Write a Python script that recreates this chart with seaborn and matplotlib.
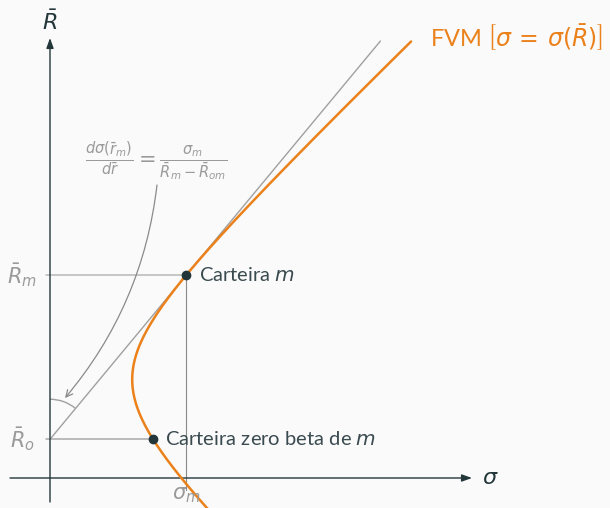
import numpy as np
import pandas as pd
import matplotlib
matplotlib.use("Agg")
import matplotlib.pyplot as plt
from matplotlib.patches import Arc
import seaborn as sns

# Minimum-variance frontier: sigma^2 = var_min + curv * (R - R_gmv)^2
sigma_min = 82.2      # sigma of the global minimum-variance portfolio
R_gmv = 98.5          # expected return of the global minimum-variance portfolio
curv = 1.082          # curvature of the frontier
R_range = [-32.0, 436.5]
R_market = 203.0      # expected return of the market portfolio
R_tangent_end = 437.0

DARK = "#23373B"
TEXT = "#3a4b50"
ORANGE = "#EB811B"
GREY = "#9a9a9a"
BG = "#FAFAFA"

sns.set_theme(style="white")
plt.rcParams["font.family"] = ["Lato", "DejaVu Sans"]
plt.rcParams["mathtext.fontset"] = "dejavusans"


def frontier_sigma(R):
    return np.sqrt(sigma_min ** 2 + curv * (R - R_gmv) ** 2)


R_vals = np.linspace(R_range[0], R_range[1], 400)
frontier = pd.DataFrame({"sigma": frontier_sigma(R_vals), "R": R_vals})

sigma_m = float(frontier_sigma(R_market))
slope_dsig = curv * (R_market - R_gmv) / sigma_m          # d sigma / d R at the market
R_zero = R_market - sigma_m / slope_dsig                  # intercept of the tangent
sigma_zero = float(frontier_sigma(R_zero))
sigma_tangent_end = (R_tangent_end - R_zero) * slope_dsig

fig = plt.figure(figsize=(6.10, 5.08), dpi=100, facecolor=BG)
ax = fig.add_axes([0, 0, 1, 1], facecolor=BG)
ax.set_xlim(-50, 560)
ax.set_ylim(-30, 478)
ax.set_axis_off()

# coordinate axes with arrowheads
ax.annotate("", xy=(422, 0), xytext=(-40, 0),
            arrowprops=dict(arrowstyle="-|>,head_length=0.5,head_width=0.18",
                            color=DARK, lw=1.0, shrinkA=0, shrinkB=0))
ax.annotate("", xy=(0, 440), xytext=(0, -24),
            arrowprops=dict(arrowstyle="-|>,head_length=0.5,head_width=0.18",
                            color=DARK, lw=1.0, shrinkA=0, shrinkB=0))
ax.text(440, 0, r"$\sigma$", color=DARK, fontsize=16, ha="center", va="center")
ax.text(0, 456, r"$\bar{R}$", color=DARK, fontsize=16, ha="center", va="center")

# guide lines
ax.plot([-4, sigma_m], [R_market, R_market], color="#b8b8b8", lw=1.1, zorder=1)
ax.plot([-4, sigma_zero], [R_zero, R_zero], color="#a8a8a8", lw=1.1, zorder=1)
ax.plot([sigma_m, sigma_m], [R_market, -12], color="#8a8a8a", lw=0.8, zorder=1)
ax.plot([0, sigma_tangent_end], [R_zero, R_tangent_end], color="#a0a0a0", lw=1.0, zorder=1)

# frontier
sns.lineplot(data=frontier, x="sigma", y="R", sort=False, color=ORANGE,
             lw=1.8, ax=ax, zorder=3)
ax.set_xlabel("")
ax.set_ylabel("")

# portfolios
ax.plot([sigma_m, sigma_zero], [R_market, R_zero], "o", color=DARK, ms=6, zorder=4)
ax.text(sigma_m + 13, R_market, r"Carteira $m$", color=TEXT, fontsize=14.5,
        ha="left", va="center")
ax.text(sigma_zero + 12, R_zero, r"Carteira zero beta de $m$", color=TEXT,
        fontsize=14.5, ha="left", va="center")

ax.text(-28, R_market, r"$\bar{R}_m$", color=GREY, fontsize=15, ha="center", va="center")
ax.text(-28, R_zero, r"$\bar{R}_o$", color=GREY, fontsize=15, ha="center", va="center")
ax.text(sigma_m, -17, r"$\sigma_m$", color=GREY, fontsize=15, ha="center", va="center")

ax.text(380, 440, r"FVM $\left[\sigma\,=\,\sigma(\bar{R})\right]$", color=ORANGE,
        fontsize=17, ha="left", va="center")

# slope annotation
ang = np.degrees(np.arctan2(1.0, slope_dsig))
ax.add_patch(Arc((0, R_zero), 80, 80, theta1=ang, theta2=90, color="#a0a0a0", lw=1.0))
ax.text(106, 316,
        r"$\frac{d\sigma(\bar{r}_m)}{d\bar{r}} = \frac{\sigma_m}{\bar{R}_m - \bar{R}_{om}}$",
        color=GREY, fontsize=15, ha="center", va="center")
ax.annotate("", xy=(15, 80), xytext=(107, 293),
            arrowprops=dict(arrowstyle="->", color="#8a8a8a", lw=0.9,
                            connectionstyle="arc3,rad=-0.15", shrinkA=0, shrinkB=0))

fig.savefig("out.png", dpi=100, facecolor=BG)
